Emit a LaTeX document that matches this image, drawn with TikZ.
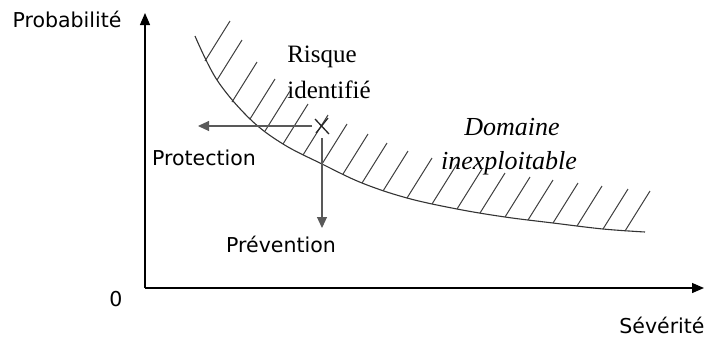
\documentclass[tikz,border=0pt]{standalone}
\usepackage{fontspec}
\setmainfont{Liberation Serif}
\newfontfamily\labfont{DejaVu Sans}
\usetikzlibrary{arrows.meta}
\begin{document}
\begin{tikzpicture}[x=1pt,y=-1pt,
  axis/.style={line width=1.3pt,black,-{Triangle[length=12pt,width=10pt]}},
  move/.style={line width=1.1pt,black!65,-{Triangle[length=11pt,width=10pt]}},
  curveline/.style={line width=1.1pt,black!80},
  hatch/.style={line width=1pt,black!75},
  sans/.style={font=\labfont\fontsize{20.5}{24}\selectfont,inner sep=0pt,anchor=base},
  serif/.style={font=\fontsize{25}{30}\selectfont,inner sep=0pt,anchor=base},
  ital/.style={font=\itshape\fontsize{26}{30}\selectfont,inner sep=0pt,anchor=base}]
\path[use as bounding box] (0,0) rectangle (704,338);
% axes
\coordinate (O) at (145,288);
\coordinate (ytop) at (145,13);
\coordinate (xend) at (704,288);
\draw[axis] (O) -- (ytop);
\draw[axis] (O) -- (xend);
% labels
\node[sans] (prob) at (67,27) {Probabilité};
\node[sans] (sev) at (662,333) {Sévérité};
\node[sans] (zero) at (116,306) {0};
\node[sans] (prot) at (204,165) {Protection};
\node[sans] (prev) at (281,252) {Prévention};
\node[serif] (risque) at (322,62) {Risque};
\node[serif] (ident) at (329,98) {identifié};
\node[ital] (dom) at (512,135) {Domaine};
\node[ital] (inex) at (509,169) {inexploitable};
% limit curve
\draw[curveline] plot[smooth,tension=0.6] coordinates {(195,36) (217,80) (250,119) (283,144) (322,164) (362,183) (407,198) (457,209) (505,217) (553,223) (603,229) (645,232)};
% hatching
\foreach \hx/\hy in {205/61,217/80,232/102,250/119,265/131,283/144,303/155,322/164,343/174,362/183,383/191,407/198,432/204,457/209,480/213,505/217,528/220,553/223,577/226,603/229,625/231}
  \draw[hatch] (\hx,\hy) -- ++(25,-40);
% identified risk
\coordinate (risk) at (322,126);
\draw[line width=1.3pt,black!85] (315,119) -- (329,134) (316,133) -- (328,118);
\coordinate (protstart) at (312,126);
\coordinate (protend) at (198,126);
\coordinate (prevstart) at (322,138);
\coordinate (prevend) at (322,228);
\draw[move] (protstart) -- (protend);
\draw[move] (prevstart) -- (prevend);
\end{tikzpicture}
\end{document}
